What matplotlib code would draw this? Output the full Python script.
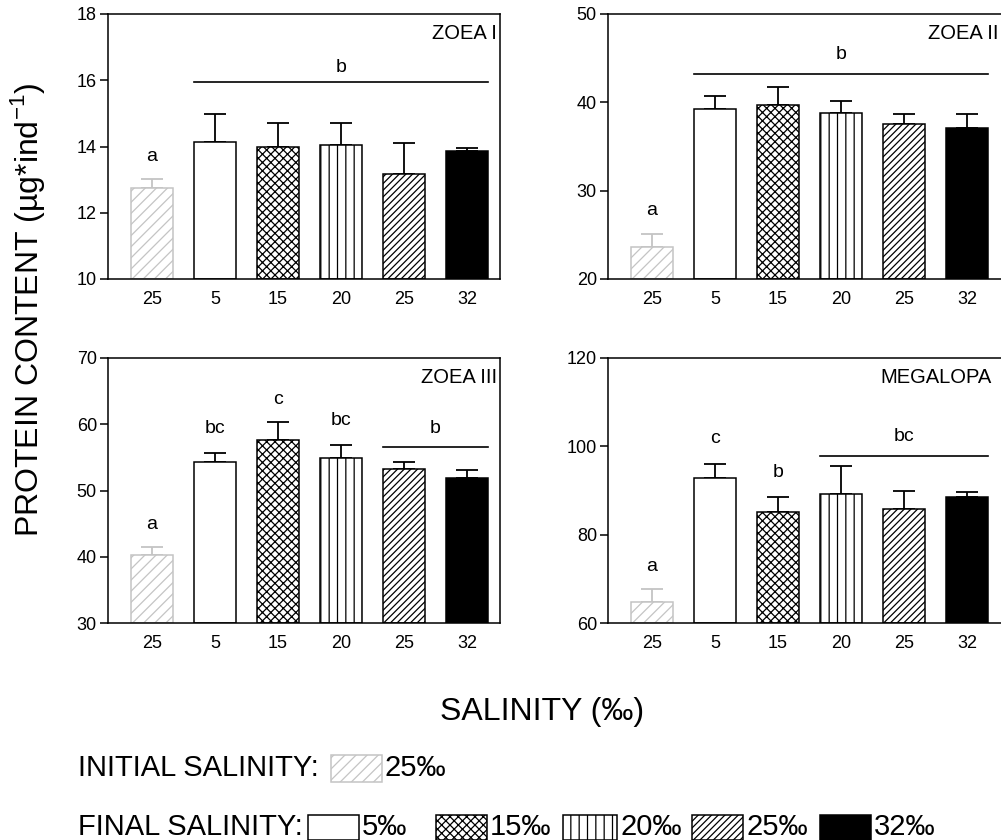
import matplotlib.pyplot as plt
from matplotlib.patches import Rectangle
import numpy as np

plt.rcParams['font.family'] = ['Liberation Sans', 'DejaVu Sans']
plt.rcParams['hatch.linewidth'] = 0.9

# Donnees
salinity_labels = ['25', '5', '15', '20', '25', '32']
stages = ['ZOEA I', 'ZOEA II', 'ZOEA III', 'MEGALOPA']

zoea1_mean = [12.76, 14.15, 13.97, 14.05, 13.16, 13.85]
zoea1_err = [0.25, 0.84, 0.75, 0.67, 0.95, 0.11]
zoea2_mean = [23.6, 39.3, 39.7, 38.8, 37.55, 37.05]
zoea2_err = [1.5, 1.4, 2.0, 1.4, 1.15, 1.6]
zoea3_mean = [40.2, 54.3, 57.6, 54.95, 53.3, 51.9]
zoea3_err = [1.3, 1.4, 2.7, 1.85, 1.0, 1.2]
megalopa_mean = [64.8, 92.8, 85.1, 89.3, 85.7, 88.5]
megalopa_err = [2.8, 3.3, 3.5, 6.2, 4.2, 1.2]

ylims = [(10, 18), (20, 50), (30, 70), (60, 120)]
yticks = [[10, 12, 14, 16, 18], [20, 30, 40, 50], [30, 40, 50, 60, 70], [60, 80, 100, 120]]

# lettres de significativite : (texte, premiere barre, derniere barre, y texte, y ligne)
zoea1_letters = [('a', 0, 0, 13.7, None), ('b', 1, 5, 16.4, 15.95)]
zoea2_letters = [('a', 0, 0, 27.7, None), ('b', 1, 5, 45.4, 43.2)]
zoea3_letters = [('a', 0, 0, 44.8, None), ('bc', 1, 1, 59.4, None), ('c', 2, 2, 63.7, None),
                 ('bc', 3, 3, 60.5, None), ('b', 4, 5, 59.4, 56.6)]
megalopa_letters = [('a', 0, 0, 72.7, None), ('c', 1, 1, 101.7, None), ('b', 2, 2, 94.0, None),
                    ('bc', 3, 5, 102.2, 97.8)]

means = [zoea1_mean, zoea2_mean, zoea3_mean, megalopa_mean]
errs = [zoea1_err, zoea2_err, zoea3_err, megalopa_err]
letters = [zoea1_letters, zoea2_letters, zoea3_letters, megalopa_letters]

# styles des barres
light = '#c4c4c4'
faces = ['white', 'white', 'white', 'white', 'white', 'black']
edges = [light, 'black', 'black', 'black', 'black', 'black']
hatches = ['///', None, 'xxxx', '||', '/////', None]
err_colors = [light, 'black', 'black', 'black', 'black', 'black']

W, H = 1001, 840
fig = plt.figure(figsize=(W / 100, H / 100), dpi=100)
# position des panneaux en pixels (gauche, haut, largeur), fin du titre en pixels
positions = [(108, 14, 392), (608, 14, 396), (108, 358, 392), (608, 358, 396)]
title_end_px = [497, 998, 497, 992]
bw = 0.67
x = np.arange(6)

for k in range(4):
    px, py, pw = positions[k]
    ax = fig.add_axes([px / W, 1 - (py + 265) / H, pw / W, 265 / H])
    for i in range(6):
        ax.bar(x[i], means[k][i] - ylims[k][0], bottom=ylims[k][0], width=bw,
               color=faces[i], edgecolor=edges[i], hatch=hatches[i], linewidth=1.1, zorder=2)
        ax.errorbar(x[i], means[k][i], yerr=[[0], [errs[k][i]]], fmt='none',
                    ecolor=err_colors[i], elinewidth=1.3, capsize=8, capthick=1.3, zorder=1)
    for txt, i0, i1, ty, ly in letters[k]:
        ax.text((x[i0] + x[i1]) / 2, ty, txt, ha='center', va='center', fontsize=14)
        if ly is not None:
            ax.plot([x[i0] - bw / 2, x[i1] + bw / 2], [ly, ly], color='black', lw=1.2)
    ax.text((title_end_px[k] - px) / pw, 0.925, stages[k], transform=ax.transAxes,
            ha='right', va='center', fontsize=14.5)
    ax.set_xlim(-0.7, -0.7 + pw / 63)
    ax.set_ylim(*ylims[k])
    ax.set_yticks(yticks[k])
    ax.set_xticks(x)
    ax.set_xticklabels(salinity_labels)
    ax.tick_params(axis='x', length=0, pad=9, labelsize=13)
    ax.tick_params(axis='y', length=6, width=1.1, labelsize=13, pad=2)
    for s in ax.spines.values():
        s.set_linewidth(1.1)

# titres des axes
fig.text(28 / W, 1 - 310 / H, 'PROTEIN CONTENT (µg*ind$^{\\mathregular{-1}}$)',
         rotation=90, ha='center', va='center', fontsize=23)
fig.text(542 / W, 1 - 712 / H, 'SALINITY (‰)', ha='center', va='center', fontsize=23)

# legende
def swatch(x0, x1, y0, y1, face, edge, hatch):
    fig.add_artist(Rectangle((x0 / W, 1 - y1 / H), (x1 - x0) / W, (y1 - y0) / H,
                             transform=fig.transFigure, facecolor=face, edgecolor=edge,
                             hatch=hatch, linewidth=1.1))

fig.text(78 / W, 1 - 768 / H, 'INITIAL SALINITY:', ha='left', va='center', fontsize=21)
swatch(331, 382, 755, 782, faces[0], edges[0], hatches[0])
fig.text(385 / W, 1 - 768 / H, '25‰', ha='left', va='center', fontsize=21)

fig.text(78 / W, 1 - 827 / H, 'FINAL SALINITY:', ha='left', va='center', fontsize=21)
final_boxes = [(308, 359), (436, 487), (563, 617), (692, 743), (820, 871)]
final_text = ['5‰', '15‰', '20‰', '25‰', '32‰']
for j in range(5):
    b0, b1 = final_boxes[j]
    swatch(b0, b1, 815, 840, faces[j + 1], edges[j + 1], hatches[j + 1])
    fig.text((b1 + 3) / W, 1 - 827 / H, final_text[j], ha='left', va='center', fontsize=21)

fig.savefig('out.png', dpi=100)
